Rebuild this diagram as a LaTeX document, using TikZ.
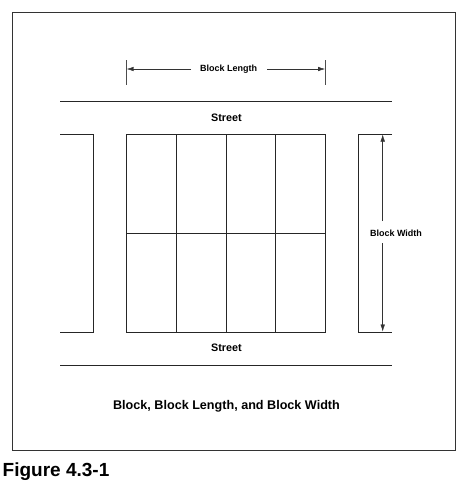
\documentclass[tikz,border=0pt]{standalone}
\usepackage{fontspec}
\setmainfont{Liberation Sans}
\usetikzlibrary{arrows.meta}
\begin{document}
\begin{tikzpicture}[x=1pt,y=-1pt,
  lbl/.style={font=\bfseries\fontsize{9}{10}\selectfont, inner sep=0pt},
  street/.style={font=\bfseries\fontsize{10.8}{12}\selectfont, inner sep=0pt},
  plan/.style={line width=1pt, black!85},
  dim/.style={line width=0.45pt, black!80, -{Latex[length=7pt,width=4.5pt]}},
  tick/.style={line width=0.45pt, black!70}]
\useasboundingbox (0,0) rectangle (468,491);
% frame
\draw[line width=0.9pt, black!80] (12,12) rectangle (455.5,450.5);
% block length dimension
\coordinate (lt1) at (126.7,60); \coordinate (lb1) at (126.7,85);
\coordinate (lt2) at (325,60); \coordinate (lb2) at (325,85);
\draw[tick] (lt1) -- (lb1);
\draw[tick] (lt2) -- (lb2);
\node[lbl] (blen) at (228.7,69) {Block Length};
\coordinate (la) at (126.7,69); \coordinate (lb) at (325,69);
\draw[dim] ([xshift=-9pt]blen.west) -- (la);
\draw[dim] ([xshift=10pt]blen.east) -- (lb);
% streets
\draw[plan] (60,101) -- (392,101);
\draw[plan] (60,365) -- (392,365);
\node[street] (st1) at (226.5,118) {Street};
\node[street] (st2) at (226.5,348) {Street};
% left block
\draw[plan] (60,134) -- (93,134) -- (93,332) -- (60,332);
% right block
\draw[plan] (392,134) -- (358,134) -- (358,332) -- (392,332);
% central block with lots
\draw[plan] (126.7,134) rectangle (325,332);
\draw[plan] (176.3,134) -- (176.3,332);
\draw[plan] (226.3,134) -- (226.3,332);
\draw[plan] (275.5,134) -- (275.5,332);
\draw[plan] (126.7,233) -- (325,233);
% block width dimension
\node[lbl] (bwid) at (396,233) {Block Width};
\coordinate (wa) at (382.7,134.5); \coordinate (wb) at (382.7,331.5);
\draw[dim] (382.7,221) -- (wa);
\draw[dim] (382.7,243) -- (wb);
% caption
\node[font=\bfseries\fontsize{12.6}{14}\selectfont, inner sep=0pt] (cap) at (226.5,406) {Block, Block Length, and Block Width};
\node[font=\bfseries\fontsize{19}{22}\selectfont, inner sep=0pt, anchor=west] (fig) at (2.5,471.5) {Figure 4.3-1};
\end{tikzpicture}
\end{document}
